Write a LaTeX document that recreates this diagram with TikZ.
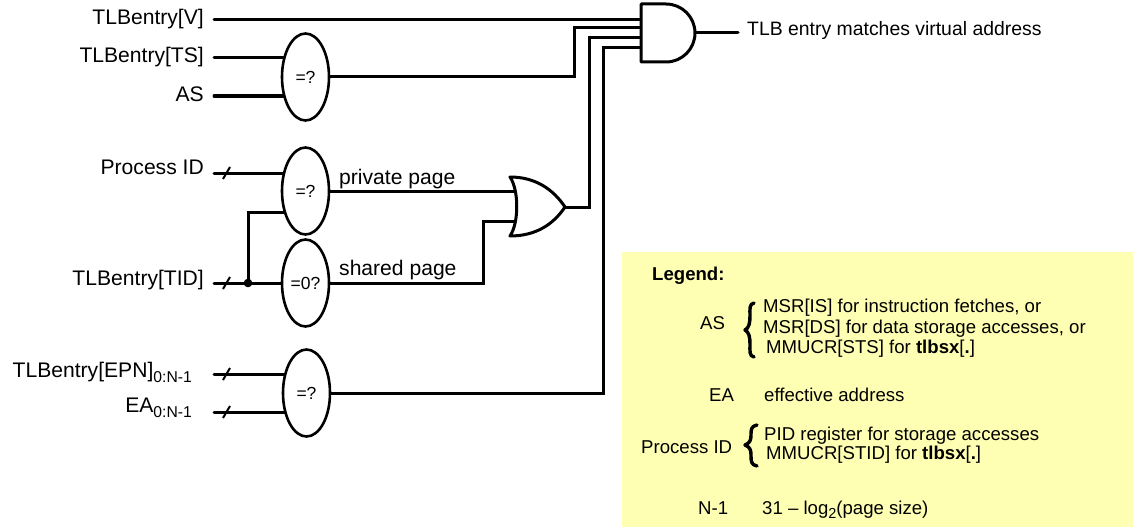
\documentclass[tikz,border=0pt]{standalone}
\usepackage{fontspec}
\setmainfont{Liberation Sans}
\usetikzlibrary{shapes.geometric}
\definecolor{legendyellow}{HTML}{FFFFB3}
\newcommand{\fsA}{\fontsize{21.1}{24}\selectfont}
\newcommand{\fsT}{\fontsize{19.4}{24}\selectfont}
\newcommand{\fsB}{\fontsize{18.6}{22}\selectfont}
\newcommand{\fsC}{\fontsize{17.5}{20}\selectfont}
\newcommand{\subs}[1]{\raisebox{-5.5pt}{\fontsize{15.7}{18}\selectfont #1}}
\tikzset{
  x=1pt,y=-1pt,
  wire/.style={line width=3pt,line cap=round,line join=miter},
  cmp/.style={shape=ellipse,draw,line width=2.6pt,minimum width=47pt,minimum height=87pt,inner sep=0pt,font=\fsC},
  gate/.style={line width=3pt,fill=white,line join=round},
  lab/.style={anchor=base east,inner sep=0pt,font=\fsA},
  wlab/.style={anchor=base west,inner sep=0pt,font=\fsA},
  leg/.style={anchor=base west,inner sep=0pt,font=\fsB},
  tick/.style={line width=2pt},
  brace/.style={line width=3.4pt,line cap=round,line join=round}
}
\begin{document}
\begin{tikzpicture}
\useasboundingbox (0,0) rectangle (1133,527);
% legend panel
\node[fill=legendyellow,anchor=north west,inner sep=0pt,minimum width=511pt,minimum height=275pt] (panel) at (622,252) {};
% labels
\node[lab] (lV) at (204,24.5) {TLBentry[V]};
\node[lab] (lTS) at (204,63) {TLBentry[TS]};
\node[lab] (lAS) at (204,101) {AS};
\node[lab] (lPID) at (204,174.5) {Process ID};
\node[lab] (lTID) at (204,285) {TLBentry[TID]};
\node[lab] (lEPN) at (192,377) {TLBentry[EPN]\subs{0:N-1}};
\node[lab] (lEA) at (192,412) {EA\subs{0:N-1}};
% wire free ends
\coordinate (cV) at (214,19.5);
\coordinate (cTS) at (214,58);
\coordinate (cAS) at (214,96);
\coordinate (cPID) at (214,173);
\coordinate (cTID) at (214,283);
\coordinate (cEPN) at (214,374);
\coordinate (cEA) at (214,412);
% comparators
\node[cmp] (e1) at (305.5,77) {=?};
\node[cmp] (e2) at (305.5,191) {=?};
\node[cmp] (e3) at (305.5,283) {=0?};
\node[cmp] (e4) at (306.5,393) {=?};
% gate pins
\coordinate (a1) at (641,19.5);
\coordinate (a2) at (641,28);
\coordinate (a3) at (641,38);
\coordinate (a4) at (641,48);
\coordinate (aout) at (695,33);
\coordinate (o1) at (515,191);
\coordinate (o2) at (515,221);
\coordinate (oout) at (565,207);
\coordinate (dot) at (248,283);
\coordinate (out) at (738,33);
% wires
\draw[wire] (cV) -- (a1);
\draw[wire] (cTS) -- (cTS -| e1.138);
\draw[wire] (cAS) -- (cAS -| e1.222);
\draw[wire] (e1.east) -- (574,77) |- (a2);
\draw[wire] (cPID) -- (cPID -| e2.140);
\draw[wire] (cTID) -- (e3.west);
\draw[wire] (dot) |- (e2.224);
\draw[wire] (e2.east) -- (o1);
\draw[wire] (e3.east) -| (483,221) -- (o2);
\draw[wire] (oout) -| (589,38) -- (a3);
\draw[wire] (cEPN) -- (cEPN -| e4.138);
\draw[wire] (cEA) -- (cEA -| e4.222);
\draw[wire] (e4.east) -| (603,48) -- (a4);
\draw[wire] (aout) -- (out);
\fill (dot) circle (4.3);
% bus ticks
\draw[tick] (223,179) -- (230,167);
\draw[tick] (223,289) -- (230,277);
\draw[tick] (223,380) -- (230,368);
\draw[tick] (223,418) -- (230,406);
% gates
\draw[gate] (641,4) -- (666,4) arc[start angle=-90,end angle=90,x radius=29,y radius=29] -- (641,62) -- cycle;
\draw[gate] (510,177) .. controls (519,190) and (519,223) .. (510,236) .. controls (535,236) and (553,225) .. (565,207) .. controls (553,189) and (535,177) .. (510,177) -- cycle;
% wire labels
\node[wlab,font=\fsT] (tout) at (747,36) {TLB entry matches virtual address};
\node[wlab] (tpriv) at (339,184) {private page};
\node[wlab] (tshare) at (339,275) {shared page};
% legend
\node[anchor=base west,inner sep=0pt,font=\fsB\bfseries] (legT) at (652,280) {Legend:};
\node[leg] (kAS) at (700,329) {AS};
\node[leg] (v1) at (763,312) {MSR[IS] for instruction fetches, or};
\node[leg] (v2) at (763,333) {MSR[DS] for data storage accesses, or};
\node[leg] (v3) at (766,353) {MMUCR[STS] for \textbf{tlbsx}[\textbf{.}]};
\node[leg] (kEA) at (709,401) {EA};
\node[leg] (vEA) at (764,401) {effective address};
\node[leg] (kPID) at (641,453) {Process ID};
\node[leg] (v4) at (764,440) {PID register for storage accesses};
\node[leg] (v5) at (766,459) {MMUCR[STID] for \textbf{tlbsx}[\textbf{.}]};
\node[leg] (kN) at (698,514) {N-1};
\node[leg] (vN) at (762,514) {31 – log\raisebox{-4pt}{\fontsize{14.5}{16}\selectfont 2}(page size)};
% braces
\draw[brace] (754,303) .. controls (749,304) and (750,309) .. (750,316) .. controls (750,323) and (749,328) .. (745,330) .. controls (749,332) and (750,337) .. (750,344) .. controls (750,351) and (749,356) .. (754,357);
\draw[brace] (757,425) .. controls (751,426) and (751,430) .. (751,435) .. controls (751,440) and (750,443) .. (745,445) .. controls (750,447) and (751,450) .. (751,455) .. controls (751,461) and (751,465) .. (757,466);
\end{tikzpicture}
\end{document}
